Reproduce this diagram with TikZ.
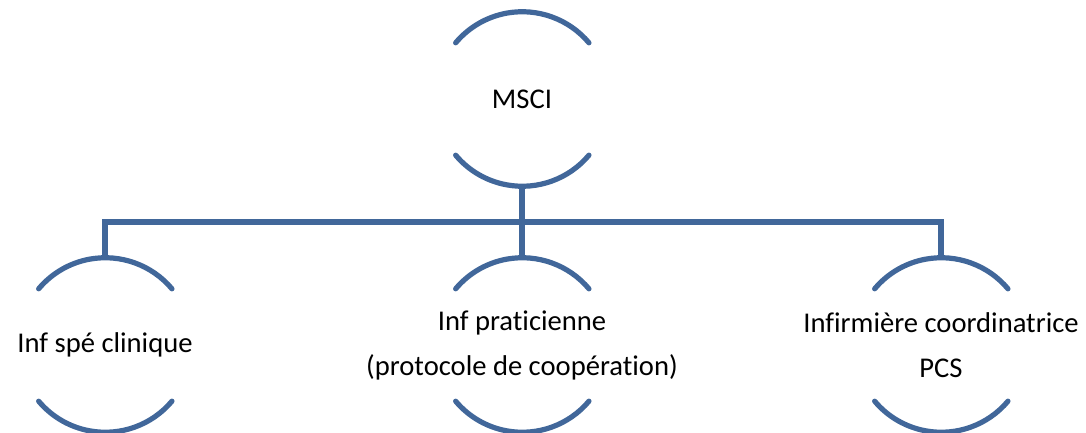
\documentclass[tikz,border=0pt]{standalone}
\usepackage{fontspec}
\setmainfont[Ligatures={NoCommon}]{Carlito}
\usetikzlibrary{positioning}
\definecolor{steelline}{HTML}{41679A}

\tikzset{
  ring/.style={circle, minimum size=87pt, inner sep=0pt, draw=none},
  label text/.style={align=center, font=\fontsize{14.3pt}{22.5pt}\selectfont, inner sep=0pt},
  link/.style={draw=steelline, line width=2.6pt}
}
% open circle: only the upper and lower arcs are drawn
\newcommand{\openring}[1]{%
  \draw[link, line cap=round] (#1.40) arc[start angle=40, end angle=140, radius=43.5pt];
  \draw[link, line cap=round] (#1.-40) arc[start angle=-40, end angle=-140, radius=43.5pt];
}

\begin{document}
\begin{tikzpicture}[x=0.5pt,y=0.5pt]
\useasboundingbox (0,0) rectangle (1086,433);
\node[ring] (msci) at (522,334) {};
\node[ring] (clin) at (105,88) {};
\node[ring] (prat) at (522,88) {};
\node[ring] (coord) at (941,88) {};
\node[label text] (msci-t) at (msci) {MSCI};
\node[label text] (clin-t) at (clin) {Inf spé clinique};
\node[label text] (prat-t) at (prat) {Inf praticienne\\(protocole de coopération)};
\node[label text] (coord-t) at (coord) {Infirmière coordinatrice\\PCS};
\openring{msci}
\openring{clin}
\openring{prat}
\openring{coord}
\coordinate (bus) at (522,211);
\draw[link] (msci.south) -- (prat.north);
\draw[link] (clin.north) |- (bus) -| (coord.north);
\end{tikzpicture}
\end{document}
